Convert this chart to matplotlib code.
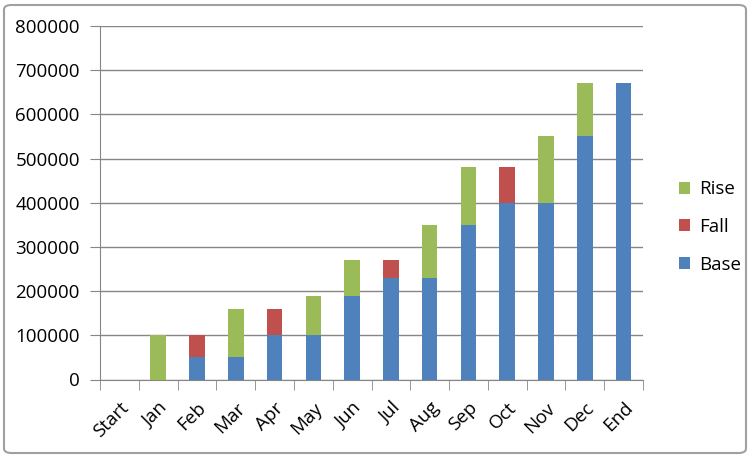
import numpy as np
import matplotlib.pyplot as plt
from matplotlib.patches import FancyBboxPatch

months = ["Start", "Jan", "Feb", "Mar", "Apr", "May", "Jun", "Jul",
          "Aug", "Sep", "Oct", "Nov", "Dec", "End"]
base = [0, 0, 50000, 50000, 100000, 100000, 190000, 230000,
        230000, 350000, 400000, 400000, 550000, 670000]
fall = [0, 0, 50000, 0, 60000, 0, 0, 40000, 0, 0, 80000, 0, 0, 0]
rise = [0, 100000, 0, 110000, 0, 90000, 80000, 0, 120000, 130000, 0, 150000, 120000, 0]

plt.rcParams['font.family'] = ['Open Sans', 'DejaVu Sans']

fig = plt.figure(figsize=(7.5, 4.57), dpi=100)
ax = fig.add_axes([100/750, 1-379.5/457, 543/750, 353.5/457])

x = np.arange(len(months))
b = np.array(base)
f = np.array(fall)
r = np.array(rise)
w = 0.4
ax.bar(x, b, w, color='#4f81bd', label='Base', zorder=3)
ax.bar(x, f, w, bottom=b, color='#c0504d', label='Fall', zorder=3)
ax.bar(x, r, w, bottom=b + f, color='#9bbb59', label='Rise', zorder=3)

ax.set_xlim(-0.5, len(months) - 0.5)
ax.set_ylim(0, 800000)
ax.set_yticks(np.arange(0, 800001, 100000))
ax.yaxis.grid(True, color='#868686', linewidth=1, zorder=0)
ax.tick_params(axis='y', length=7, color='#868686', labelsize=13.5, pad=7.5)
ax.set_xticks(x)
ax.set_xticklabels(months, rotation=45, ha='right', rotation_mode='anchor', fontsize=13.5)
ax.set_xticks(np.arange(-0.5, len(months), 1), minor=True)
ax.tick_params(axis='x', which='major', length=0, pad=14)
ax.tick_params(axis='x', which='minor', length=7, color='#868686')
for s in ['top', 'right']:
    ax.spines[s].set_visible(False)
for s in ['left', 'bottom']:
    ax.spines[s].set_color('#868686')

h, l = ax.get_legend_handles_labels()
fig.legend(h[::-1], l[::-1], loc='center left', bbox_to_anchor=(662/750, 1-227/457),
           frameon=False, fontsize=13.5, handlelength=0.6, handleheight=0.6,
           labelspacing=1.05, handletextpad=0.5)

fig.patches.append(FancyBboxPatch((4/750, 4/457), 742/750, 448/457,
                                  boxstyle='round,pad=0,rounding_size=0.01',
                                  transform=fig.transFigure, fill=False,
                                  edgecolor='#a0a0a0', linewidth=1.5))

fig.savefig('out.png', dpi=100)
